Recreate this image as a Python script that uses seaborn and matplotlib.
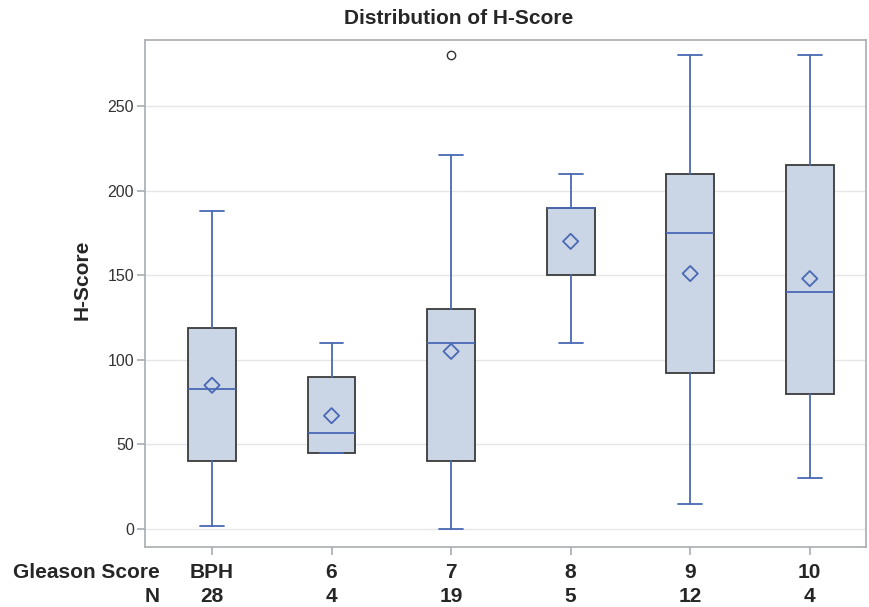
import matplotlib
matplotlib.use("Agg")
import matplotlib.pyplot as plt
import matplotlib.transforms as mtransforms
import seaborn as sns
import pandas as pd

# Summary statistics
groups = ["BPH", "6", "7", "8", "9", "10"]
counts = [28, 4, 19, 5, 12, 4]
whisker_lo = [2, 45, 0, 110, 15, 30]
q1 = [40, 45, 40, 150, 92, 80]
median = [83, 57, 110, 190, 175, 140]
q3 = [119, 90, 130, 190, 210, 215]
whisker_hi = [188, 110, 221, 210, 280, 280]
means = [85, 67, 105, 170, 151, 148]
outliers = [[], [], [280], [], [], []]

sns.set_theme(style="white")
plt.rcParams["font.family"] = ["Liberation Sans", "DejaVu Sans"]

blue = "#4a69b5"
fill = "#cad5e6"
edge = "#3a3a3a"

fig = plt.figure(figsize=(8.69, 6.07), dpi=100)
ax = fig.add_axes([0.1669, 0.0988, 0.8296, 0.8353])

stats = []
for i, g in enumerate(groups):
    stats.append(dict(label=g, whislo=whisker_lo[i], q1=q1[i], med=median[i],
                      q3=q3[i], whishi=whisker_hi[i], mean=means[i],
                      fliers=outliers[i]))

pos = list(range(len(groups)))
ax.bxp(stats, positions=pos, widths=0.4, capwidths=0.2, patch_artist=True,
       showmeans=False,
       boxprops=dict(facecolor=fill, edgecolor=edge, linewidth=1.3),
       medianprops=dict(color=blue, linewidth=1.3),
       whiskerprops=dict(color=blue, linewidth=1.3),
       capprops=dict(color=blue, linewidth=1.3),
       flierprops=dict(marker="o", markerfacecolor="white", markeredgecolor="#333333",
                       markersize=6, markeredgewidth=1.0))

df_mean = pd.DataFrame({"pos": pos, "mean": means})
sns.scatterplot(data=df_mean, x="pos", y="mean", marker="D", s=60,
                facecolor="none", edgecolor=blue, linewidth=1.3, ax=ax, zorder=5)

ax.set_xlim(-0.56, 5.47)
ax.set_ylim(-10.6, 289)
ax.set_yticks([0, 50, 100, 150, 200, 250])
ax.set_xticks(pos)
ax.set_xticklabels([])
ax.set_xlabel("")
ax.yaxis.grid(True, color="#e6e6e6", linewidth=1)
ax.set_axisbelow(True)
for s in ax.spines.values():
    s.set_color("#a8adb2")
    s.set_linewidth(1.2)
ax.tick_params(axis="both", direction="out", length=6, width=1.2, color="#a8adb2",
               labelsize=11.5, labelcolor="#333333", bottom=True, left=True, pad=2)
ax.set_ylabel("H-Score", fontsize=15, fontweight="bold")
ax.yaxis.set_label_coords(-0.0735, 0.527)
fig.text(459 / 869, 1 - 18 / 607, "Distribution of H-Score", ha="center", va="center",
         fontsize=15, fontweight="bold")

# Table below the axis
narrow = ["Liberation Sans Narrow", "Liberation Sans", "DejaVu Sans"]
trans = mtransforms.blended_transform_factory(ax.transData, fig.transFigure)
row1 = 1 - 572 / 607
row2 = 1 - 597 / 607
fig.text(160 / 869, row1, "Gleason Score", ha="right", va="center", fontsize=15,
         fontweight="bold", family=narrow)
fig.text(160 / 869, row2, "N", ha="right", va="center", fontsize=15,
         fontweight="bold", family=narrow)
for i, g in enumerate(groups):
    ax.text(pos[i], row1, g, transform=trans, ha="center", va="center", fontsize=15,
            fontweight="bold", family=narrow)
    ax.text(pos[i], row2, str(counts[i]), transform=trans, ha="center", va="center",
            fontsize=15, fontweight="bold", family=narrow)

fig.savefig("out.png", dpi=100)
